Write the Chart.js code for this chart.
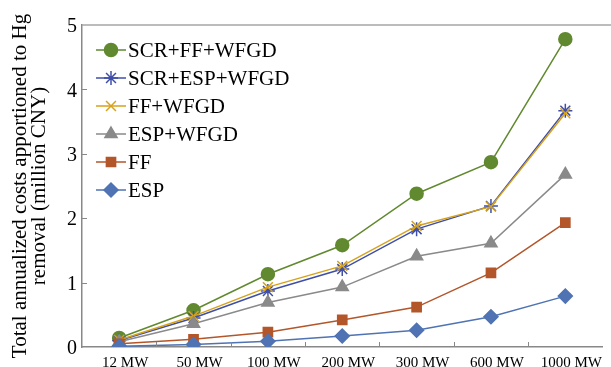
<!DOCTYPE html>
<html>
<head>
<meta charset="utf-8">
<script src="https://cdn.jsdelivr.net/npm/chart.js@4.4.1/dist/chart.umd.min.js"></script>
<style>
  html, body { margin: 0; padding: 0; background: #fff; }
  #wrap { width: 611px; height: 367px; }
</style>
</head>
<body>
<div id="wrap"><canvas id="costChart" width="611" height="367"></canvas></div>
<script>
const plantSizes = ["12 MW", "50 MW", "100 MW", "200 MW", "300 MW", "600 MW", "1000 MW"];

const scrFfWfgd  = [0.14, 0.57, 1.13, 1.58, 2.38, 2.87, 4.78];
const scrEspWfgd = [0.10, 0.45, 0.87, 1.21, 1.83, 2.19, 3.67];
const ffWfgd     = [0.11, 0.48, 0.93, 1.26, 1.88, 2.18, 3.63];
const espWfgd    = [0.08, 0.36, 0.69, 0.93, 1.41, 1.61, 2.68];
const ffOnly     = [0.05, 0.12, 0.23, 0.42, 0.62, 1.15, 1.93];
const espOnly    = [0.01, 0.04, 0.09, 0.17, 0.26, 0.47, 0.79];

const yTicks = [0, 1, 2, 3, 4, 5];

const serif = "'Liberation Serif', 'Times New Roman', serif";

function series(label, data, color, style, radius, order) {
    return {
        label: label,
        data: data,
        borderColor: color,
        backgroundColor: color,
        pointBackgroundColor: color,
        pointBorderColor: color,
        pointStyle: style,
        pointRadius: radius,
        pointHoverRadius: radius,
        pointBorderWidth: 1.5,
        borderWidth: 1.5,
        tension: 0,
        order: order
    };
}

// legend drawn inside the plot, top-left
const insideLegend = {
    id: "insideLegend",
    afterDatasetsDraw(chart) {
        const ctx = chart.ctx;
        ctx.save();
        chart.data.datasets.forEach((ds, i) => {
            const y = 50 + i * 28;
            ctx.strokeStyle = ds.borderColor;
            ctx.lineWidth = 1.5;
            ctx.beginPath();
            ctx.moveTo(96, y);
            ctx.lineTo(126, y);
            ctx.stroke();
            ctx.fillStyle = ds.backgroundColor;
            Chart.helpers.drawPoint(ctx, {
                pointStyle: ds.pointStyle,
                radius: ds.pointRadius,
                borderWidth: 1.5,
                rotation: 0
            }, 111, y);
            ctx.fillStyle = "#000";
            ctx.font = "normal normal 21px " + serif;
            ctx.textBaseline = "middle";
            ctx.textAlign = "left";
            ctx.fillText(ds.label, 128, y + 1);
        });
        ctx.restore();
    }
};

// top frame line plus inward ticks on both axes
const frame = {
    id: "frame",
    afterDraw(chart) {
        const ctx = chart.ctx;
        const a = chart.chartArea;
        const x = chart.scales.x;
        const y = chart.scales.y;
        ctx.save();
        ctx.strokeStyle = "#a6a6a6";
        ctx.lineWidth = 1.5;
        ctx.beginPath();
        ctx.moveTo(a.left, a.top);
        ctx.lineTo(611, a.top);
        ctx.stroke();
        ctx.strokeStyle = "#888";
        ctx.lineWidth = 1;
        yTicks.slice(1, -1).forEach(v => {
            const py = Math.round(y.getPixelForValue(v)) + 0.5;
            ctx.beginPath();
            ctx.moveTo(a.left, py);
            ctx.lineTo(a.left + 5, py);
            ctx.stroke();
        });
        for (let i = 1; i < plantSizes.length; i++) {
            const px = Math.round((x.getPixelForTick(i - 1) + x.getPixelForTick(i)) / 2) + 0.5;
            ctx.beginPath();
            ctx.moveTo(px, a.bottom);
            ctx.lineTo(px, a.bottom - 5);
            ctx.stroke();
        }
        ctx.restore();
    }
};

new Chart(document.getElementById("costChart"), {
    type: "line",
    data: {
        labels: plantSizes,
        datasets: [
            series("SCR+FF+WFGD", scrFfWfgd, "#61892f", "circle", 6.5, 5),
            series("SCR+ESP+WFGD", scrEspWfgd, "#3f4fa8", "star", 7, 4),
            series("FF+WFGD", ffWfgd, "#d6a21c", "crossRot", 7, 3),
            series("ESP+WFGD", espWfgd, "#8a8a8a", "triangle", 7, 2),
            series("FF", ffOnly, "#b3562a", "rect", 6.5, 1),
            series("ESP", espOnly, "#4f73b3", "rectRot", 7, 0)
        ]
    },
    options: {
        responsive: false,
        animation: false,
        layout: { padding: { top: 25, right: 2, left: 0, bottom: 0 } },
        plugins: {
            legend: { display: false },
            tooltip: { enabled: false }
        },
        scales: {
            x: {
                offset: true,
                grid: { display: false, drawTicks: false },
                border: { color: "#888", width: 1.5 },
                ticks: {
                    color: "#000",
                    font: { family: serif, size: 15 },
                    padding: 7,
                    labelOffset: 6,
                    maxRotation: 0,
                    autoSkip: false
                },
                afterFit(scale) { scale.height = 20; }
            },
            y: {
                min: 0,
                max: 5,
                afterBuildTicks(scale) {
                    scale.ticks = yTicks.map(v => ({ value: v }));
                },
                grid: { display: false, drawTicks: false },
                border: { color: "#888", width: 1.5 },
                ticks: {
                    color: "#000",
                    font: { family: serif, size: 20 },
                    padding: 5,
                    labelOffset: 2
                },
                title: {
                    display: true,
                    text: ["Total annualized costs apportioned to Hg", "removal (million CNY)"],
                    color: "#000",
                    font: { family: serif, size: 21, lineHeight: 0.9 },
                    padding: { top: 11, bottom: 0 }
                },
                afterFit(scale) { scale.width = 82; }
            }
        }
    },
    plugins: [insideLegend, frame]
});
</script>
</body>
</html>
